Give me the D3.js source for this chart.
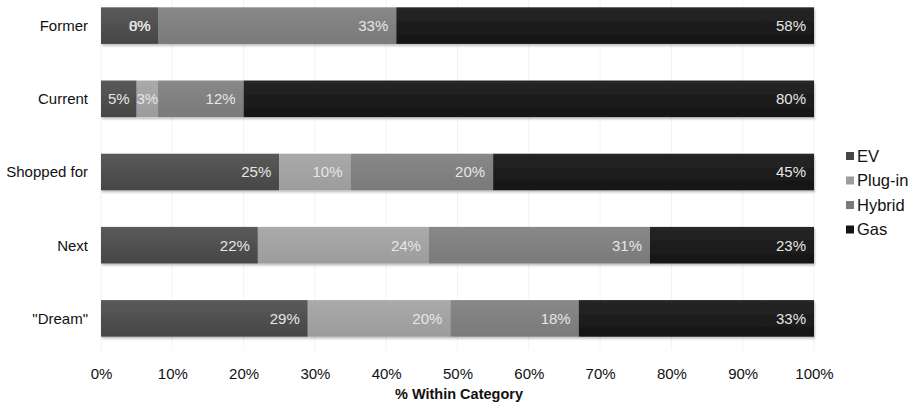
<!DOCTYPE html>
<html>
<head>
<meta charset="utf-8">
<title>Vehicle type within category</title>
<script src="https://d3js.org/d3.v7.min.js"></script>
<style>
  body { margin: 0; background: #fff; }
  svg text { font-family: "Liberation Sans", Arial, sans-serif; }
  .bar-label { fill: #e6e6e6; font-size: 15px; }
  .cat-label { fill: #111; font-size: 15px; text-anchor: end; }
  .tick text { fill: #111; font-size: 15px; }
</style>
</head>
<body>
<svg id="chart" width="919" height="403"></svg>
<script>
// data (percent within each category)
let categories = ['Former', 'Current', 'Shopped for', 'Next', '"Dream"'];
let seriesNames = ['EV', 'Plug-in', 'Hybrid', 'Gas'];
let ev     = [8, 5, 25, 22, 29];
let plugin = [0, 3, 10, 24, 20];
let hybrid = [33, 12, 20, 31, 18];
let gas    = [58, 80, 45, 23, 33];
let xTicks = [0, 0.1, 0.2, 0.3, 0.4, 0.5, 0.6, 0.7, 0.8, 0.9, 1];

let colors = ['#464646', '#9c9c9c', '#7a7a7a', '#151515'];
let topColors = ['#5a5a5a', '#aaaaaa', '#888888', '#262626'];

let rows = categories.map((c, i) => ({
    cat: c, 'EV': ev[i], 'Plug-in': plugin[i], 'Hybrid': hybrid[i], 'Gas': gas[i]
}));

let stacked = d3.stack().keys(seriesNames).offset(d3.stackOffsetExpand)(rows);

let svg = d3.select('#chart');
let x = d3.scaleLinear().domain([0, 1]).range([101, 814]);
let y = d3.scaleBand().domain(categories).range([0, 344]).paddingInner(0.5).paddingOuter(0.1);

let defs = svg.append('defs');
seriesNames.forEach((s, i) => {
    let g = defs.append('linearGradient').attr('id', 'grad' + i)
        .attr('x1', 0).attr('y1', 0).attr('x2', 0).attr('y2', 1);
    g.append('stop').attr('offset', '0%').attr('stop-color', topColors[i]);
    g.append('stop').attr('offset', '100%').attr('stop-color', colors[i]);
});
let shadow = defs.append('filter').attr('id', 'shadow')
    .attr('x', '-5%').attr('y', '-20%').attr('width', '110%').attr('height', '160%');
shadow.append('feDropShadow').attr('dx', 1).attr('dy', 2).attr('stdDeviation', 1.2)
    .attr('flood-color', '#000').attr('flood-opacity', 0.25);

// faint grid
svg.append('g').selectAll('line').data(xTicks).enter().append('line')
    .attr('x1', d => x(d)).attr('x2', d => x(d))
    .attr('y1', 0).attr('y2', 350)
    .attr('stroke', '#f3f3f3').attr('stroke-width', 1);

// bars
let barsG = svg.append('g').attr('filter', 'url(#shadow)');
let layer = barsG.selectAll('g.layer').data(stacked).enter().append('g')
    .attr('class', 'layer')
    .attr('fill', (d, i) => 'url(#grad' + i + ')');

layer.selectAll('rect').data(d => d).enter().append('rect')
    .attr('x', d => x(d[0]))
    .attr('y', d => y(d.data.cat))
    .attr('width', d => x(d[1]) - x(d[0]))
    .attr('height', y.bandwidth());

// value labels inside the end of each segment; centred when the segment is too narrow
let labels = svg.append('g');
stacked.forEach(s => {
    labels.selectAll(null).data(s).enter().append('text')
        .attr('class', 'bar-label')
        .attr('y', d => y(d.data.cat) + y.bandwidth() / 2)
        .attr('dy', '0.36em')
        .text(d => d.data[s.key] + '%')
        .each(function(d) {
            let w = x(d[1]) - x(d[0]);
            let tw = this.getComputedTextLength();
            let el = d3.select(this);
            if (w > 0 && w < tw + 16) {
                el.attr('x', (x(d[0]) + x(d[1])) / 2).attr('text-anchor', 'middle');
            } else {
                el.attr('x', x(d[1]) - 8).attr('text-anchor', 'end');
            }
        });
});

// category labels
svg.append('g').selectAll('text').data(categories).enter().append('text')
    .attr('class', 'cat-label')
    .attr('x', 88)
    .attr('y', d => y(d) + y.bandwidth() / 2)
    .attr('dy', '0.36em')
    .text(d => d);

// x axis
let xAxis = svg.append('g').attr('transform', 'translate(0,359)')
    .call(d3.axisBottom(x).tickValues(xTicks).tickFormat(d3.format('.0%')).tickSize(0).tickPadding(9));
xAxis.select('.domain').remove();

svg.append('text')
    .attr('x', 459).attr('y', 399)
    .attr('text-anchor', 'middle')
    .style('font-size', '14.5px').style('font-weight', 'bold').attr('fill', '#111')
    .text('% Within Category');

// legend
let legend = svg.append('g').attr('transform', 'translate(846,156)');
let item = legend.selectAll('g').data(seriesNames).enter().append('g')
    .attr('transform', (d, i) => 'translate(0,' + i * 24.5 + ')');
item.append('rect').attr('x', 0).attr('y', -4).attr('width', 8).attr('height', 8)
    .attr('fill', (d, i) => colors[i]);
item.append('text').attr('x', 11).attr('dy', '0.36em')
    .style('font-size', '16.5px').attr('fill', '#111')
    .text(d => d);
</script>
</body>
</html>
